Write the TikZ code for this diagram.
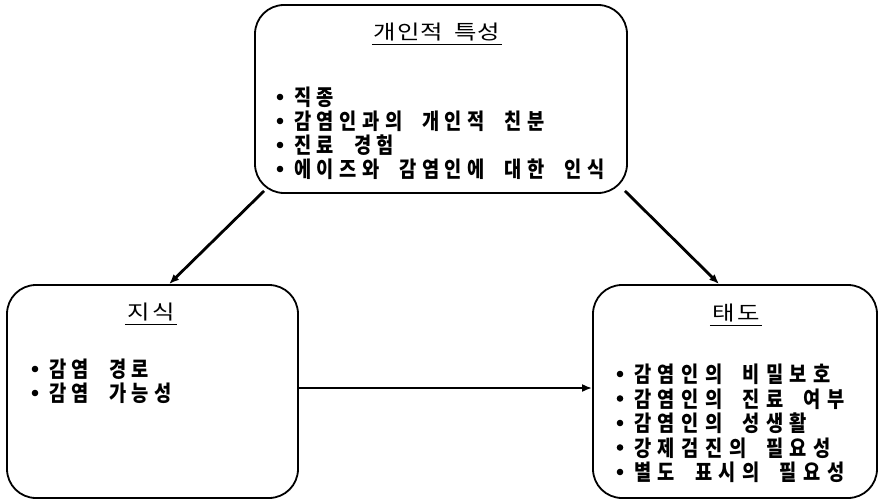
\documentclass[tikz,border=0pt]{standalone}
\usepackage{fontspec}
\usetikzlibrary{arrows.meta,calc}
\newfontfamily\kritem[FakeStretch=0.85]{Noto Sans CJK KR}
\newfontfamily\krtitle[FakeStretch=1.22,WordSpace=2.2]{Noto Sans CJK KR}
\newdimen\sylgap
\sylgap=0pt
\newcommand\sgap{\kern\sylgap}
\begin{document}
\begin{tikzpicture}[x=1pt,y=-1pt,
  gap/.code={\setlength{\sylgap}{#1}},
  wsp/.code={\setlength{\spaceskip}{#1}},
  box/.style={draw,line width=1.8pt,rounded corners=29pt,inner sep=0pt},
  ttl/.style={font=\krtitle\fontsize{20}{24}\selectfont,inner sep=0pt,text height=17pt,text depth=1.5pt},
  itm/.style={font=\kritem\bfseries\fontsize{22}{26}\selectfont,wsp=20pt,anchor=west,inner sep=0pt,text height=18.5pt,text depth=1.5pt},
  uline/.style={line width=1.6pt},
  conn/.style={line width=2.8pt,-{Latex[length=10pt,width=8pt]}},
  bulr/.style={radius=3.3pt}
]
\useasboundingbox (0,0) rectangle (879,503);

% boxes
\node[box,minimum width=372pt,minimum height=188pt] (top) at (441,99) {};
\node[box,minimum width=291pt,minimum height=213pt] (left) at (152.5,391.5) {};
\node[box,minimum width=284pt,minimum height=213pt] (right) at (735,391.5) {};

% titles
\node[ttl,gap=0.6pt] (ttop) at (437,32) {개\sgap 인\sgap 적 특\sgap 성};
\node[ttl,gap=3pt] (tleft) at (151,312) {지\sgap 식};
\node[ttl,gap=3pt] (tright) at (736,313) {태\sgap 도};
\foreach \n in {ttop,tleft,tright}
  \draw[uline] ($(\n.south west)+(-2,3)$) -- ($(\n.south east)+(2,3)$);

% top items
\node[itm,gap=5.5pt] (top1) at (294,97) {직\sgap 종};
\node[itm,gap=5.5pt] (top2) at (294,121) {감\sgap 염\sgap 인\sgap 과\sgap 의 개\sgap 인\sgap 적 친\sgap 분};
\node[itm,gap=5.5pt] (top3) at (294,145) {진\sgap 료 경\sgap 험};
\node[itm,gap=5.5pt] (top4) at (294,169) {에\sgap 이\sgap 즈\sgap 와 감\sgap 염\sgap 인\sgap 에 대\sgap 한 인\sgap 식};

% left items
\node[itm,gap=5.5pt] (left1) at (49,369) {감\sgap 염 경\sgap 로};
\node[itm,gap=5.5pt] (left2) at (49,393) {감\sgap 염 가\sgap 능\sgap 성};

% right items
\node[itm,gap=6.5pt] (right1) at (634,374) {감\sgap 염\sgap 인\sgap 의 비\sgap 밀\sgap 보\sgap 호};
\node[itm,gap=6.5pt] (right2) at (634,398.5) {감\sgap 염\sgap 인\sgap 의 진\sgap 료 여\sgap 부};
\node[itm,gap=6.5pt] (right3) at (634,423) {감\sgap 염\sgap 인\sgap 의 성\sgap 생\sgap 활};
\node[itm,gap=6.5pt] (right4) at (634,447.5) {강\sgap 제\sgap 검\sgap 진\sgap 의 필\sgap 요\sgap 성};
\node[itm,gap=6.5pt] (right5) at (634,472) {별\sgap 도 표\sgap 시\sgap 의 필\sgap 요\sgap 성};

% bullets
\foreach \n in {top1,top2,top3,top4,left1,left2,right1,right2,right3,right4,right5}
  \fill[bulr] ($(\n.west)+(-14,0)$) circle;

% connectors
\draw[conn] ($(top.south west)+(10,-3)$) -- ($(left.north west)+(163,0)$);
\draw[conn] ($(top.south east)+(-3,-3)$) -- ($(right.north west)+(127,0)$);
\draw[conn] ($(left.east)+(0,-3.5)$) -- ($(right.west)+(0,-3.5)$);
\end{tikzpicture}
\end{document}
